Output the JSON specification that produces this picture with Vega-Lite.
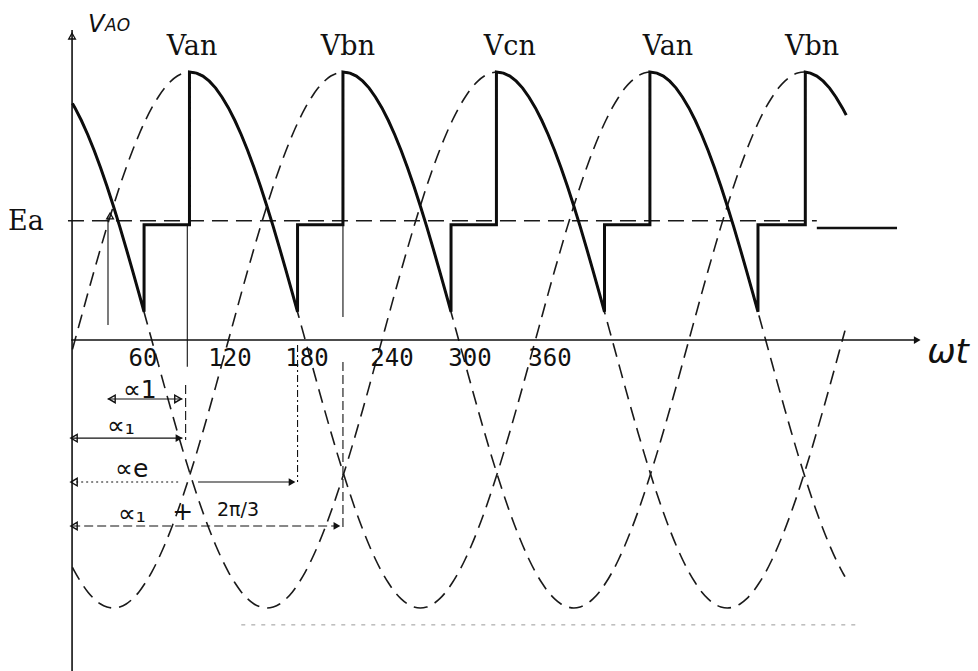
{
  "$schema": "https://vega.github.io/schema/vega-lite/v6.json",
  "width": 978,
  "height": 671,
  "autosize": "none",
  "padding": 0,
  "background": "white",
  "config": {"view": {"stroke": null}},
  "datasets": {
    "sines": [
      {"t":-2,"a":-0.035,"b":-0.848,"c":0.883},
      {"t":0,"a":0,"b":-0.866,"c":0.866},{"t":5,"a":0.087,"b":-0.906,"c":0.819},{"t":10,"a":0.174,"b":-0.94,"c":0.766},{"t":15,"a":0.259,"b":-0.966,"c":0.707},{"t":20,"a":0.342,"b":-0.985,"c":0.643},{"t":25,"a":0.423,"b":-0.996,"c":0.574},{"t":30,"a":0.5,"b":-1,"c":0.5},{"t":35,"a":0.574,"b":-0.996,"c":0.423},{"t":40,"a":0.643,"b":-0.985,"c":0.342},{"t":45,"a":0.707,"b":-0.966,"c":0.259},{"t":50,"a":0.766,"b":-0.94,"c":0.174},{"t":55,"a":0.819,"b":-0.906,"c":0.087},{"t":60,"a":0.866,"b":-0.866,"c":0},{"t":65,"a":0.906,"b":-0.819,"c":-0.087},{"t":70,"a":0.94,"b":-0.766,"c":-0.174},{"t":75,"a":0.966,"b":-0.707,"c":-0.259},{"t":80,"a":0.985,"b":-0.643,"c":-0.342},{"t":85,"a":0.996,"b":-0.574,"c":-0.423},{"t":90,"a":1,"b":-0.5,"c":-0.5},{"t":95,"a":0.996,"b":-0.423,"c":-0.574},{"t":100,"a":0.985,"b":-0.342,"c":-0.643},{"t":105,"a":0.966,"b":-0.259,"c":-0.707},{"t":110,"a":0.94,"b":-0.174,"c":-0.766},{"t":115,"a":0.906,"b":-0.087,"c":-0.819},{"t":120,"a":0.866,"b":0,"c":-0.866},{"t":125,"a":0.819,"b":0.087,"c":-0.906},{"t":130,"a":0.766,"b":0.174,"c":-0.94},{"t":135,"a":0.707,"b":0.259,"c":-0.966},{"t":140,"a":0.643,"b":0.342,"c":-0.985},{"t":145,"a":0.574,"b":0.423,"c":-0.996},{"t":150,"a":0.5,"b":0.5,"c":-1},{"t":155,"a":0.423,"b":0.574,"c":-0.996},{"t":160,"a":0.342,"b":0.643,"c":-0.985},{"t":165,"a":0.259,"b":0.707,"c":-0.966},{"t":170,"a":0.174,"b":0.766,"c":-0.94},{"t":175,"a":0.087,"b":0.819,"c":-0.906},{"t":180,"a":0,"b":0.866,"c":-0.866},{"t":185,"a":-0.087,"b":0.906,"c":-0.819},{"t":190,"a":-0.174,"b":0.94,"c":-0.766},{"t":195,"a":-0.259,"b":0.966,"c":-0.707},{"t":200,"a":-0.342,"b":0.985,"c":-0.643},{"t":205,"a":-0.423,"b":0.996,"c":-0.574},{"t":210,"a":-0.5,"b":1,"c":-0.5},{"t":215,"a":-0.574,"b":0.996,"c":-0.423},{"t":220,"a":-0.643,"b":0.985,"c":-0.342},{"t":225,"a":-0.707,"b":0.966,"c":-0.259},{"t":230,"a":-0.766,"b":0.94,"c":-0.174},{"t":235,"a":-0.819,"b":0.906,"c":-0.087},{"t":240,"a":-0.866,"b":0.866,"c":0},{"t":245,"a":-0.906,"b":0.819,"c":0.087},{"t":250,"a":-0.94,"b":0.766,"c":0.174},{"t":255,"a":-0.966,"b":0.707,"c":0.259},{"t":260,"a":-0.985,"b":0.643,"c":0.342},{"t":265,"a":-0.996,"b":0.574,"c":0.423},{"t":270,"a":-1,"b":0.5,"c":0.5},{"t":275,"a":-0.996,"b":0.423,"c":0.574},{"t":280,"a":-0.985,"b":0.342,"c":0.643},{"t":285,"a":-0.966,"b":0.259,"c":0.707},{"t":290,"a":-0.94,"b":0.174,"c":0.766},{"t":295,"a":-0.906,"b":0.087,"c":0.819},{"t":300,"a":-0.866,"b":0,"c":0.866},{"t":305,"a":-0.819,"b":-0.087,"c":0.906},{"t":310,"a":-0.766,"b":-0.174,"c":0.94},{"t":315,"a":-0.707,"b":-0.259,"c":0.966},{"t":320,"a":-0.643,"b":-0.342,"c":0.985},{"t":325,"a":-0.574,"b":-0.423,"c":0.996},{"t":330,"a":-0.5,"b":-0.5,"c":1},{"t":335,"a":-0.423,"b":-0.574,"c":0.996},{"t":340,"a":-0.342,"b":-0.643,"c":0.985},{"t":345,"a":-0.259,"b":-0.707,"c":0.966},{"t":350,"a":-0.174,"b":-0.766,"c":0.94},{"t":355,"a":-0.087,"b":-0.819,"c":0.906},{"t":360,"a":0,"b":-0.866,"c":0.866},{"t":365,"a":0.087,"b":-0.906,"c":0.819},{"t":370,"a":0.174,"b":-0.94,"c":0.766},{"t":375,"a":0.259,"b":-0.966,"c":0.707},{"t":380,"a":0.342,"b":-0.985,"c":0.643},{"t":385,"a":0.423,"b":-0.996,"c":0.574},{"t":390,"a":0.5,"b":-1,"c":0.5},{"t":395,"a":0.574,"b":-0.996,"c":0.423},{"t":400,"a":0.643,"b":-0.985,"c":0.342},{"t":405,"a":0.707,"b":-0.966,"c":0.259},{"t":410,"a":0.766,"b":-0.94,"c":0.174},{"t":415,"a":0.819,"b":-0.906,"c":0.087},{"t":420,"a":0.866,"b":-0.866,"c":0},{"t":425,"a":0.906,"b":-0.819,"c":-0.087},{"t":430,"a":0.94,"b":-0.766,"c":-0.174},{"t":435,"a":0.966,"b":-0.707,"c":-0.259},{"t":440,"a":0.985,"b":-0.643,"c":-0.342},{"t":445,"a":0.996,"b":-0.574,"c":-0.423},{"t":450,"a":1,"b":-0.5,"c":-0.5},{"t":455,"a":0.996,"b":-0.423,"c":-0.574},{"t":460,"a":0.985,"b":-0.342,"c":-0.643},{"t":465,"a":0.966,"b":-0.259,"c":-0.707},{"t":470,"a":0.94,"b":-0.174,"c":-0.766},{"t":475,"a":0.906,"b":-0.087,"c":-0.819},{"t":480,"a":0.866,"b":0,"c":-0.866},{"t":485,"a":0.819,"b":0.087,"c":-0.906},{"t":490,"a":0.766,"b":0.174,"c":-0.94},{"t":495,"a":0.707,"b":0.259,"c":-0.966},{"t":500,"a":0.643,"b":0.342,"c":-0.985},{"t":505,"a":0.574,"b":0.423,"c":-0.996},{"t":510,"a":0.5,"b":0.5,"c":-1},{"t":515,"a":0.423,"b":0.574,"c":-0.996},{"t":520,"a":0.342,"b":0.643,"c":-0.985},{"t":525,"a":0.259,"b":0.707,"c":-0.966},{"t":530,"a":0.174,"b":0.766,"c":-0.94},{"t":535,"a":0.087,"b":0.819,"c":-0.906},{"t":540,"a":0,"b":0.866,"c":-0.866},{"t":545,"a":-0.087,"b":0.906,"c":-0.819},{"t":550,"a":-0.174,"b":0.94,"c":-0.766},{"t":555,"a":-0.259,"b":0.966,"c":-0.707},{"t":560,"a":-0.342,"b":0.985,"c":-0.643},{"t":565,"a":-0.423,"b":0.996,"c":-0.574},{"t":570,"a":-0.5,"b":1,"c":-0.5},{"t":575,"a":-0.574,"b":0.996,"c":-0.423},{"t":580,"a":-0.643,"b":0.985,"c":-0.342},{"t":585,"a":-0.707,"b":0.966,"c":-0.259},{"t":590,"a":-0.766,"b":0.94,"c":-0.174},{"t":595,"a":-0.819,"b":0.906,"c":-0.087},{"t":600,"a":-0.866,"b":0.866,"c":0},
      {"t":602,"a":-0.883,"b":0.848,"c":0.035}
    ],
    "output": [
      {"i":0,"t":-2,"v":0.883},{"i":1,"t":0,"v":0.866},{"i":2,"t":5,"v":0.819},{"i":3,"t":10,"v":0.766},{"i":4,"t":15,"v":0.707},{"i":5,"t":20,"v":0.643},{"i":6,"t":25,"v":0.574},{"i":7,"t":30,"v":0.5},{"i":8,"t":35,"v":0.423},{"i":9,"t":40,"v":0.342},{"i":10,"t":45,"v":0.259},{"i":11,"t":50,"v":0.174},{"i":12,"t":54,"v":0.105},
      {"i":13,"t":54,"v":0.43},{"i":14,"t":89.5,"v":0.43},{"i":15,"t":89.5,"v":1},
      {"i":16,"t":95,"v":0.996},{"i":17,"t":100,"v":0.985},{"i":18,"t":105,"v":0.966},{"i":19,"t":110,"v":0.94},{"i":20,"t":115,"v":0.906},{"i":21,"t":120,"v":0.866},{"i":22,"t":125,"v":0.819},{"i":23,"t":130,"v":0.766},{"i":24,"t":135,"v":0.707},{"i":25,"t":140,"v":0.643},{"i":26,"t":145,"v":0.574},{"i":27,"t":150,"v":0.5},{"i":28,"t":155,"v":0.423},{"i":29,"t":160,"v":0.342},{"i":30,"t":165,"v":0.259},{"i":31,"t":170,"v":0.174},{"i":32,"t":174,"v":0.105},
      {"i":33,"t":174,"v":0.43},{"i":34,"t":209.5,"v":0.43},{"i":35,"t":209.5,"v":1},
      {"i":36,"t":215,"v":0.996},{"i":37,"t":220,"v":0.985},{"i":38,"t":225,"v":0.966},{"i":39,"t":230,"v":0.94},{"i":40,"t":235,"v":0.906},{"i":41,"t":240,"v":0.866},{"i":42,"t":245,"v":0.819},{"i":43,"t":250,"v":0.766},{"i":44,"t":255,"v":0.707},{"i":45,"t":260,"v":0.643},{"i":46,"t":265,"v":0.574},{"i":47,"t":270,"v":0.5},{"i":48,"t":275,"v":0.423},{"i":49,"t":280,"v":0.342},{"i":50,"t":285,"v":0.259},{"i":51,"t":290,"v":0.174},{"i":52,"t":294,"v":0.105},
      {"i":53,"t":294,"v":0.43},{"i":54,"t":329.5,"v":0.43},{"i":55,"t":329.5,"v":1},
      {"i":56,"t":335,"v":0.996},{"i":57,"t":340,"v":0.985},{"i":58,"t":345,"v":0.966},{"i":59,"t":350,"v":0.94},{"i":60,"t":355,"v":0.906},{"i":61,"t":360,"v":0.866},{"i":62,"t":365,"v":0.819},{"i":63,"t":370,"v":0.766},{"i":64,"t":375,"v":0.707},{"i":65,"t":380,"v":0.643},{"i":66,"t":385,"v":0.574},{"i":67,"t":390,"v":0.5},{"i":68,"t":395,"v":0.423},{"i":69,"t":400,"v":0.342},{"i":70,"t":405,"v":0.259},{"i":71,"t":410,"v":0.174},{"i":72,"t":414,"v":0.105},
      {"i":73,"t":414,"v":0.43},{"i":74,"t":449.5,"v":0.43},{"i":75,"t":449.5,"v":1},
      {"i":76,"t":455,"v":0.996},{"i":77,"t":460,"v":0.985},{"i":78,"t":465,"v":0.966},{"i":79,"t":470,"v":0.94},{"i":80,"t":475,"v":0.906},{"i":81,"t":480,"v":0.866},{"i":82,"t":485,"v":0.819},{"i":83,"t":490,"v":0.766},{"i":84,"t":495,"v":0.707},{"i":85,"t":500,"v":0.643},{"i":86,"t":505,"v":0.574},{"i":87,"t":510,"v":0.5},{"i":88,"t":515,"v":0.423},{"i":89,"t":520,"v":0.342},{"i":90,"t":525,"v":0.259},{"i":91,"t":530,"v":0.174},{"i":92,"t":534,"v":0.105},
      {"i":93,"t":534,"v":0.43},{"i":94,"t":571,"v":0.43},{"i":95,"t":571,"v":1},
      {"i":96,"t":575,"v":0.996},{"i":97,"t":580,"v":0.985},{"i":98,"t":585,"v":0.966},{"i":99,"t":590,"v":0.94},{"i":100,"t":595,"v":0.906},{"i":101,"t":600,"v":0.866},{"i":102,"t":603,"v":0.839}
    ],
    "ea": [{"t":-5.5,"v":0.445},{"t":580,"v":0.445}],
    "eaSolid": [{"t":580,"t2":642.7,"v":0.418,"v2":0.418}],
    "axes": [
      {"t":-2.3,"t2":-2.3,"v":1.157,"v2":-1.2351},
      {"t":-3,"t2":660,"v":0,"v2":0}
    ],
    "thin": [
      {"t":25.8,"t2":25.8,"v":0.46,"v2":0.056},
      {"t":87.8,"t2":87.8,"v":0.43,"v2":-0.1},
      {"t":209.5,"t2":209.5,"v":0.43,"v2":0.086},
      {"t":25.5,"t2":84,"v":-0.22,"v2":-0.22},
      {"t":-3,"t2":84,"v":-0.366,"v2":-0.366},
      {"t":96.2,"t2":171,"v":-0.53,"v2":-0.53}
    ],
    "dotted": [{"t":-3,"t2":82,"v":-0.53,"v2":-0.53}],
    "dashed": [
      {"t":86.5,"t2":86.5,"v":-0.168,"v2":-0.373},
      {"t":209.5,"t2":209.5,"v":-0.082,"v2":-0.709},
      {"t":-3,"t2":205,"v":-0.694,"v2":-0.694}
    ],
    "dashdot": [{"t":174,"t2":174,"v":-0.019,"v2":-0.53}],
    "faint": [{"t":130,"t2":614,"v":-1.063,"v2":-1.063}],
    "openLeft": [{"t":28.9,"v":-0.22},{"t":-0.8,"v":-0.366},{"t":-0.8,"v":-0.53},{"t":-0.8,"v":-0.694}],
    "openRight": [{"t":80.5,"v":-0.22}],
    "filledRight": [{"t":81.3,"v":-0.366},{"t":169.7,"v":-0.53},{"t":204.8,"v":-0.694},{"t":658.5,"v":0}],
    "openUp": [{"t":-2.3,"v":1.134},{"t":27.4,"v":0.463}],
    "phaseLabels": [
      {"label":"Van","t":91.5,"v":1.063},
      {"label":"Vbn","t":213.4,"v":1.063},
      {"label":"Vcn","t":340,"v":1.063},
      {"label":"Van","t":463.6,"v":1.063},
      {"label":"Vbn","t":576.2,"v":1.063},
      {"label":"Ea","t":-38.3,"v":0.41}
    ],
    "ticks": [
      {"label":"60","t":53.2,"v":-0.097},
      {"label":"120","t":121.2,"v":-0.097},
      {"label":"180","t":181.4,"v":-0.097},
      {"label":"240","t":247.8,"v":-0.097},
      {"label":"300","t":308.8,"v":-0.097},
      {"label":"360","t":371.4,"v":-0.097}
    ],
    "annot": [
      {"label":"∝1","t":37.5,"v":-0.216},
      {"label":"∝₁","t":25,"v":-0.351},
      {"label":"∝e","t":31.3,"v":-0.511},
      {"label":"∝₁","t":33.6,"v":-0.679},
      {"label":"+","t":76,"v":-0.672}
    ],
    "frac": [{"label":"2π/3","t":111,"v":-0.657}],
    "wt": [{"label":"ωt","t":682.6,"v":-0.086}],
    "vLabel": [{"label":"V","t":10.2,"v":1.149}],
    "vSub": [{"label":"AO","t":23.5,"v":1.153}]
  },
  "encoding": {
    "x": {"field":"t","type":"quantitative","scale":{"domain":[-58.64,706.02],"nice":false,"zero":false},"axis":null},
    "y": {"field":"v","type":"quantitative","scale":{"domain":[-1.2351,1.2687],"nice":false,"zero":false},"axis":null}
  },
  "layer": [
    {"data":{"name":"faint"},"mark":{"type":"rule","color":"#999999","strokeWidth":1,"strokeDash":[4,6]},"encoding":{"x2":{"field":"t2"},"y2":{"field":"v2"}}},
    {"data":{"name":"sines"},"transform":[{"fold":["a","b","c"],"as":["ph","v"]}],
     "mark":{"type":"line","color":"#1a1a1a","strokeWidth":1.6,"strokeDash":[14,8],"interpolate":"monotone"},
     "encoding":{"detail":{"field":"ph"}}},
    {"data":{"name":"ea"},"mark":{"type":"line","color":"#1a1a1a","strokeWidth":1.6,"strokeDash":[16,8]},"encoding":{}},
    {"data":{"name":"axes"},"mark":{"type":"rule","color":"#111111","strokeWidth":1.6},"encoding":{"x2":{"field":"t2"},"y2":{"field":"v2"}}},
    {"data":{"name":"thin"},"mark":{"type":"rule","color":"#111111","strokeWidth":1.1},"encoding":{"x2":{"field":"t2"},"y2":{"field":"v2"}}},
    {"data":{"name":"dotted"},"mark":{"type":"rule","color":"#111111","strokeWidth":1.1,"strokeDash":[2,3]},"encoding":{"x2":{"field":"t2"},"y2":{"field":"v2"}}},
    {"data":{"name":"dashed"},"mark":{"type":"rule","color":"#111111","strokeWidth":1.1,"strokeDash":[9,4]},"encoding":{"x2":{"field":"t2"},"y2":{"field":"v2"}}},
    {"data":{"name":"dashdot"},"mark":{"type":"rule","color":"#111111","strokeWidth":1.1,"strokeDash":[7,3,2,3]},"encoding":{"x2":{"field":"t2"},"y2":{"field":"v2"}}},
    {"data":{"name":"eaSolid"},"mark":{"type":"rule","color":"#111111","strokeWidth":2.4},"encoding":{"x2":{"field":"t2"},"y2":{"field":"v2"}}},
    {"data":{"name":"output"},"mark":{"type":"line","color":"#0d0d0d","strokeWidth":3,"strokeJoin":"miter"},"encoding":{"order":{"field":"i","type":"quantitative"}}},
    {"data":{"name":"openLeft"},"mark":{"type":"point","shape":"triangle-left","filled":false,"size":55,"color":"#111111","strokeWidth":1.4,"opacity":1},"encoding":{}},
    {"data":{"name":"openRight"},"mark":{"type":"point","shape":"triangle-right","filled":false,"size":55,"color":"#111111","strokeWidth":1.4,"opacity":1},"encoding":{}},
    {"data":{"name":"filledRight"},"mark":{"type":"point","shape":"triangle-right","filled":true,"size":60,"color":"#111111","opacity":1},"encoding":{}},
    {"data":{"name":"openUp"},"mark":{"type":"point","shape":"triangle-up","filled":false,"size":45,"color":"#111111","strokeWidth":1.3,"opacity":1},"encoding":{}},
    {"data":{"name":"phaseLabels"},"mark":{"type":"text","font":"DejaVu Serif","fontSize":27,"color":"#111111","align":"center","baseline":"alphabetic"},"encoding":{"text":{"field":"label"}}},
    {"data":{"name":"ticks"},"mark":{"type":"text","font":"DejaVu Sans Mono","fontSize":24,"color":"#111111","align":"center","baseline":"alphabetic"},"encoding":{"text":{"field":"label"}}},
    {"data":{"name":"annot"},"mark":{"type":"text","font":"DejaVu Sans","fontSize":25,"color":"#111111","align":"left","baseline":"alphabetic"},"encoding":{"text":{"field":"label"}}},
    {"data":{"name":"frac"},"mark":{"type":"text","font":"DejaVu Sans","fontSize":19,"color":"#111111","align":"left","baseline":"alphabetic"},"encoding":{"text":{"field":"label"}}},
    {"data":{"name":"wt"},"mark":{"type":"text","font":"DejaVu Sans","fontStyle":"italic","fontSize":34,"color":"#111111","align":"center","baseline":"alphabetic"},"encoding":{"text":{"field":"label"}}},
    {"data":{"name":"vLabel"},"mark":{"type":"text","font":"DejaVu Sans","fontStyle":"italic","fontSize":24,"color":"#111111","align":"left","baseline":"alphabetic"},"encoding":{"text":{"field":"label"}}},
    {"data":{"name":"vSub"},"mark":{"type":"text","font":"DejaVu Sans","fontStyle":"italic","fontSize":17,"color":"#111111","align":"left","baseline":"alphabetic"},"encoding":{"text":{"field":"label"}}}
  ]
}
